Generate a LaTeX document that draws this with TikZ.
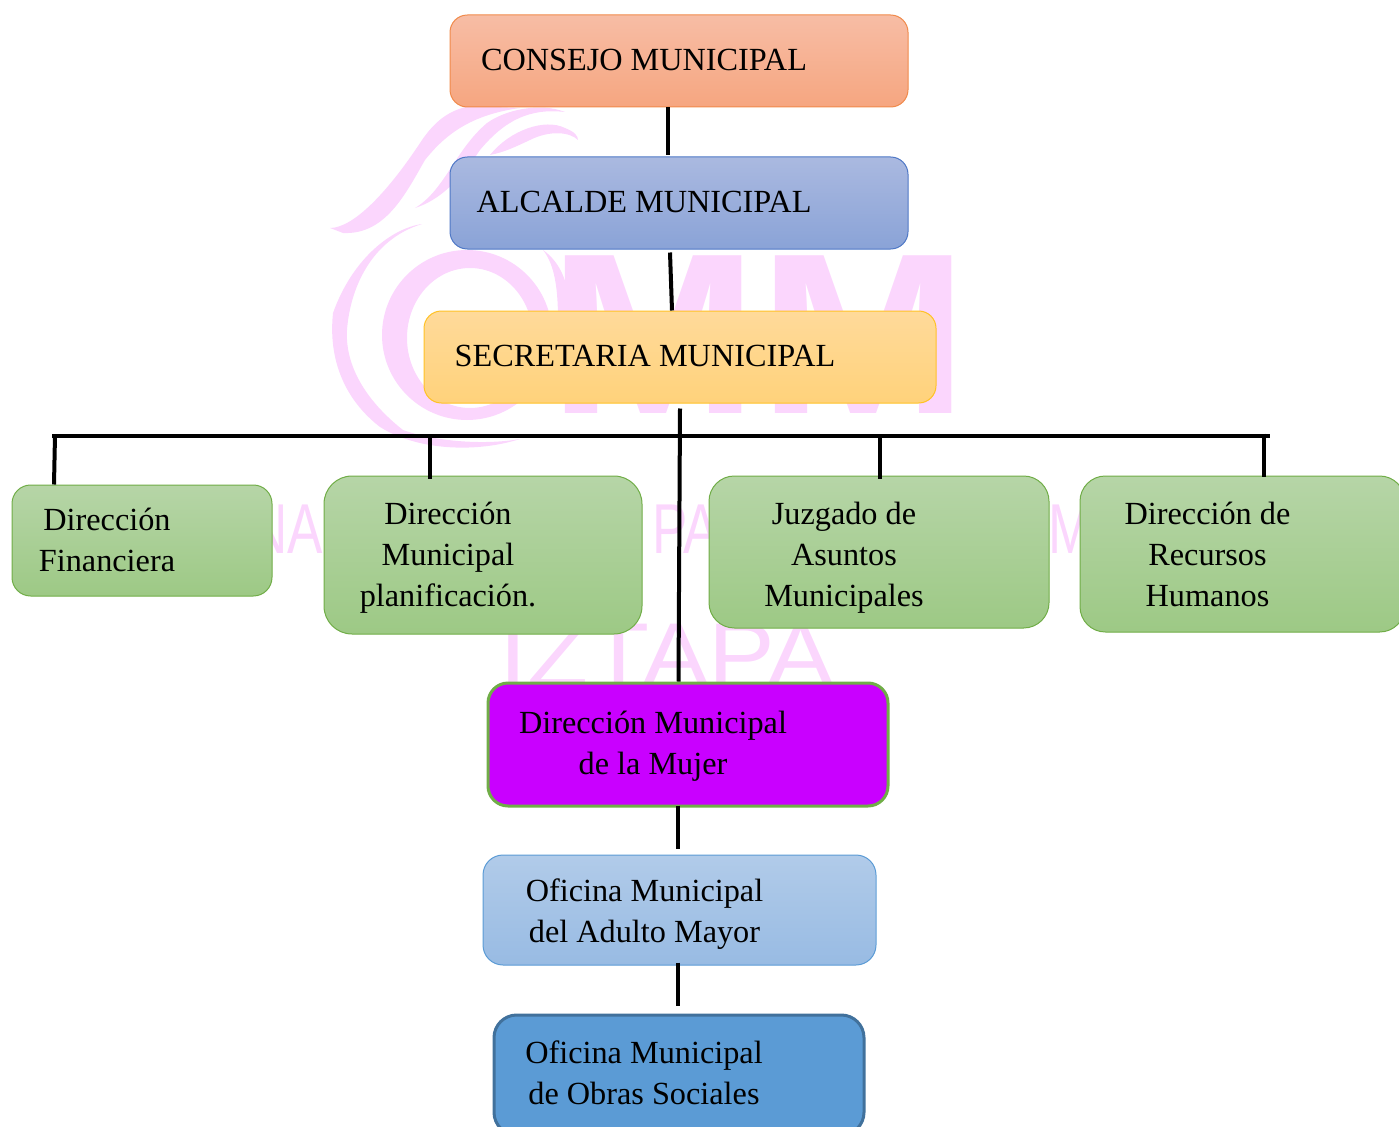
\documentclass[tikz,border=0pt]{standalone}
\usepackage{fontspec}
\setmainfont{Liberation Serif}
\newfontfamily\wmsans{Liberation Sans}
\usetikzlibrary{calc,positioning}
\definecolor{wmpink}{HTML}{FBD6FD}
\definecolor{salmonT}{HTML}{F7BDA5}\definecolor{salmonB}{HTML}{F6A680}\definecolor{salmonL}{HTML}{F08A4B}
\definecolor{indigoT}{HTML}{AAB9E0}\definecolor{indigoB}{HTML}{8AA3D7}\definecolor{indigoL}{HTML}{4F78C6}
\definecolor{goldT}{HTML}{FFDA9A}\definecolor{goldB}{HTML}{FFD27B}\definecolor{goldL}{HTML}{FFC226}
\definecolor{leafT}{HTML}{B6D5A7}\definecolor{leafB}{HTML}{9DC985}\definecolor{leafL}{HTML}{70AD47}
\definecolor{violet}{HTML}{C900FF}
\definecolor{skyT}{HTML}{B1CBE9}\definecolor{skyB}{HTML}{98BBE3}\definecolor{skyL}{HTML}{5B9BD5}
\definecolor{steelL}{HTML}{41719C}
\newcommand{\lab}[2][-8.25pt]{\raisebox{#1}[0pt][0pt]{\begin{tabular}{@{}c@{}}#2\end{tabular}}\rule{52.5pt}{0pt}}
\tikzstyle{box}=[draw,line width=0.75pt,inner sep=0pt,text=black,
               font=\fontsize{24.2}{30.75}\selectfont]
\tikzstyle{wm}=[fill=wmpink,draw=none]
\tikzstyle{wmtext}=[text=wmpink,inner sep=0pt,xscale=0.75,font=\wmsans\fontsize{53}{53}\selectfont]
\tikzstyle{link}=[draw,line width=3pt]
\tikzstyle{salmonbox}=[box,rounded corners=13pt,top color=salmonT,bottom color=salmonB,draw=salmonL]
\tikzstyle{indigobox}=[box,rounded corners=13pt,top color=indigoT,bottom color=indigoB,draw=indigoL]
\tikzstyle{goldbox}=[box,rounded corners=13pt,top color=goldT,bottom color=goldB,draw=goldL]
\tikzstyle{leafbox}=[box,top color=leafT,bottom color=leafB,draw=leafL]
\tikzstyle{violetbox}=[box,rounded corners=15pt,fill=violet,draw=leafL,line width=2.25pt]
\tikzstyle{skybox}=[box,rounded corners=15pt,top color=skyT,bottom color=skyB,draw=skyL]
\tikzstyle{steelbox}=[box,rounded corners=17pt,fill=skyL,draw=steelL,line width=2.25pt]
\begin{document}
\begin{tikzpicture}[x=0.75pt,y=-0.75pt]
\clip (0,0) rectangle (1399,1127);
% watermark
\fill[wm,even odd rule] (467,335) ellipse [x radius=85,y radius=85] (470,338) ellipse [x radius=63,y radius=70];
\fill[wm] (422,224) .. controls (393,228) and (353,257) .. (333,313) .. controls (328,360) and (345,400) .. (380,427)
  .. controls (420,452) and (480,452) .. (520,439) .. controls (480,446) and (430,440) .. (403,430)
  .. controls (365,400) and (345,365) .. (347,330) .. controls (350,290) and (370,240) .. (422,224) -- cycle;
\fill[wm] (330,228) .. controls (353,228) and (387,193) .. (420,143) .. controls (435,120) and (450,110) .. (470,106)
  -- (520,108) .. controls (470,115) and (445,135) .. (425,160) .. controls (405,195) and (385,235) .. (343,233) -- cycle;
\fill[wm] (415,208) .. controls (445,190) and (455,150) .. (487,123) .. controls (505,110) and (540,102) .. (565,112)
  .. controls (530,108) and (505,120) .. (480,150) .. controls (460,180) and (440,200) .. (415,208) -- cycle;
\fill[wm] (490,155) .. controls (510,130) and (545,118) .. (565,128) .. controls (575,132) and (578,136) .. (578,140)
  .. controls (570,132) and (550,130) .. (530,140) .. controls (515,147) and (505,152) .. (490,155) -- cycle;
\fill[wm] (543,250) .. controls (560,262) and (572,285) .. (568,320) -- (558,320) .. controls (558,290) and (555,265) .. (543,250) -- cycle;
\node (om) [text=wmpink,inner sep=0pt,xscale=1.1,font=\fontspec{Liberation Sans Bold}\fontsize{172}{172}\selectfont] at (758.5,335) {MM};
\node (na) [wmtext,anchor=base east] at (323,553) {NA};
\node (pa) [wmtext,anchor=base west] at (652,553) {PA};
\node (em) [wmtext,anchor=base west] at (1048,553) {M};
\node (iz) [wmtext,anchor=base,xscale=1.47,font=\wmsans\fontsize{68}{68}\selectfont] at (667,686) {IZTAPA};
% boxes
\node (consejo) [salmonbox,minimum width=343.5pt,minimum height=69pt] at (679,61) {\lab[-7.5pt]{CONSEJO MUNICIPAL}};
\node (alcalde) [indigobox,minimum width=343.5pt,minimum height=69pt] at (679,203) {\lab[-7.5pt]{ALCALDE MUNICIPAL}};
\node (secret) [goldbox,minimum width=384pt,minimum height=69pt] at (680,357) {\lab[-7.5pt]{SECRETARIA MUNICIPAL}};
\node (financ) [leafbox,rounded corners=14pt,minimum width=195pt,minimum height=83.25pt] at (142,540.5) {\lab{Dirección\\Financiera}};
\node (planif) [leafbox,rounded corners=21pt,minimum width=238.5pt,minimum height=118.5pt] at (483,555) {\lab{Dirección\\Municipal\\planificación.}};
\node (juzgado) [leafbox,rounded corners=19pt,minimum width=255pt,minimum height=114pt] at (879,552) {\lab[-10.5pt]{Juzgado de\\Asuntos\\Municipales}};
\node (rrhh) [leafbox,rounded corners=19pt,minimum width=243.75pt,minimum height=117pt] at (1242.5,554) {\lab[-9pt]{Dirección de\\Recursos\\Humanos}};
\node (mujer) [violetbox,minimum width=300pt,minimum height=92.25pt] at (688,744.5) {\lab[-7.2pt]{Dirección Municipal\\de la Mujer}};
\node (adulto) [skybox,minimum width=294.75pt,minimum height=82.5pt] at (679.5,910) {\lab[-9pt]{Oficina Municipal\\del Adulto Mayor}};
\node (obras) [steelbox,minimum width=277.5pt,minimum height=90pt] at (679,1075) {\lab[-6.75pt]{Oficina Municipal\\de Obras Sociales}};
% connectors
\coordinate (barL) at (52,435.5);
\coordinate (barR) at (1270,435.5);
\path[link] (barL) -- (barR);
\path[link] ($(consejo.south)+(-11,0)$) -- ($(alcalde.north)+(-11,-1)$);
\path[link] ($(alcalde.south)+(-9,3)$) -- ($(secret.north)+(-8,0)$);
\path[link] ($(secret.south)+(0,5)$) -- ($(mujer.north)+(-9.5,0)$);
\path[link] ($(barL)+(3,0)$) -- ($(financ.north)+(-88,0)$);
\path[link] ($(barL)+(378,0)$) -- ($(planif.north)+(-53,3)$);
\path[link] ($(barL)+(828,0)$) -- ($(juzgado.north)+(1,3)$);
\path[link] ($(barR)+(-6,-2)$) -- ($(rrhh.north)+(21.5,1)$);
\path[link] ($(mujer.south)+(-10,-2)$) -- ($(adulto.north)+(-1.5,-6)$);
\path[link] ($(adulto.south)+(-1.5,-3)$) -- ($(obras.north)+(-1,-8)$);
\end{tikzpicture}
\end{document}
